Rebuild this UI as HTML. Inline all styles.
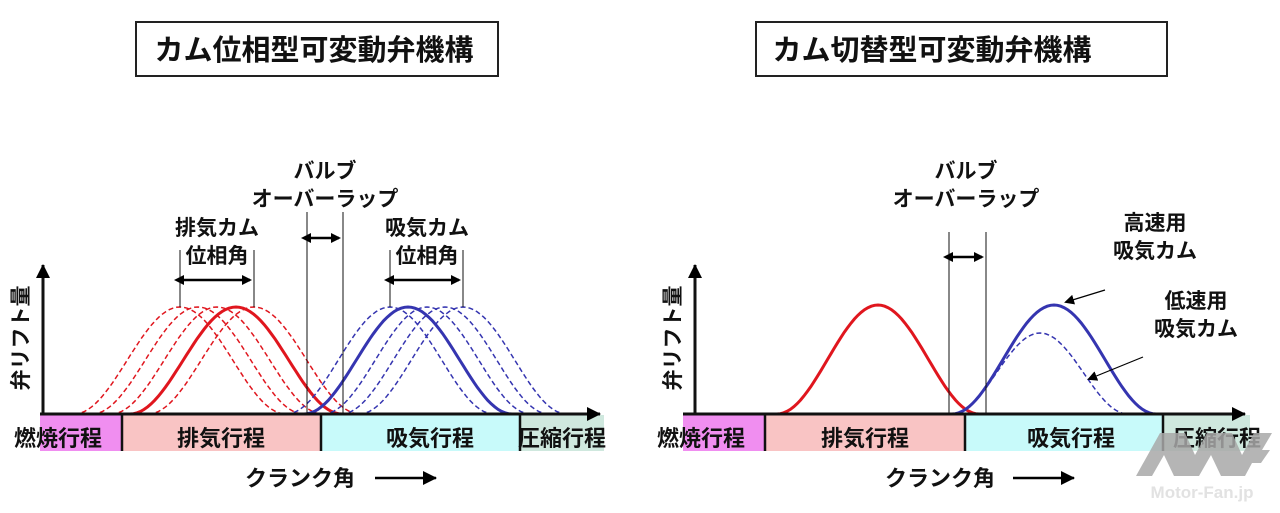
<!DOCTYPE html>
<html><head><meta charset="utf-8"><style>
html,body{margin:0;padding:0;background:#fff;}
svg{display:block;}
text{font-family:"Liberation Sans","Noto Sans CJK JP",sans-serif;fill:#111;}
</style></head><body>
<svg id="s" width="1280" height="513" viewBox="0 0 1280 513" xmlns="http://www.w3.org/2000/svg">
<defs>
<marker id="ah" markerWidth="10" markerHeight="10" refX="8" refY="5" orient="auto" markerUnits="userSpaceOnUse"><path d="M0,0 L10,5 L0,10 z" fill="#000"/></marker>
<marker id="ah2" markerWidth="14" markerHeight="14" refX="13" refY="7" orient="auto" markerUnits="userSpaceOnUse"><path d="M0,0 L14,7 L0,14 z" fill="#000"/></marker>
<marker id="ahs" markerWidth="10" markerHeight="10" refX="0" refY="5" orient="auto-start-reverse" markerUnits="userSpaceOnUse"><path d="M0,0 L10,5 L0,10 z" fill="#000"/></marker>
</defs>
<rect x="136" y="22" width="362" height="54" fill="#fff" stroke="#222" stroke-width="2"/>
<text x="314" y="60" font-size="29" font-weight="bold" text-anchor="middle">カム位相型可変動弁機構</text>
<rect x="756" y="22" width="411" height="54" fill="#fff" stroke="#222" stroke-width="2"/>
<text x="932" y="60" font-size="29" font-weight="bold" text-anchor="middle">カム切替型可変動弁機構</text>

<rect x="40" y="415" width="82" height="36" fill="#f08ef0"/>
<rect x="122" y="415" width="199" height="36" fill="#f9c4c4"/>
<rect x="321" y="415" width="199" height="36" fill="#c8fafa"/>
<rect x="520" y="415" width="84" height="36" fill="#cfe8de"/>
<line x1="122" y1="415" x2="122" y2="451" stroke="#111" stroke-width="2.5"/>
<line x1="321" y1="415" x2="321" y2="451" stroke="#111" stroke-width="2.5"/>
<line x1="520" y1="415" x2="520" y2="451" stroke="#111" stroke-width="2.5"/>
<text x="14" y="446" font-size="22" font-weight="bold">燃焼行程</text>
<text x="221" y="446" font-size="22" font-weight="bold" text-anchor="middle">排気行程</text>
<text x="430" y="446" font-size="22" font-weight="bold" text-anchor="middle">吸気行程</text>
<text x="562" y="446" font-size="22" font-weight="bold" text-anchor="middle">圧縮行程</text>
<g id="L"></g>
<line x1="40" y1="414" x2="600" y2="414" stroke="#111" stroke-width="3" marker-end="url(#ah2)"/>
<line x1="43" y1="414" x2="43" y2="265" stroke="#111" stroke-width="3" marker-end="url(#ah2)"/>
<text transform="translate(28,338) rotate(-90)" font-size="21" font-weight="bold" text-anchor="middle">弁リフト量</text>
<line x1="307" y1="212" x2="307" y2="414" stroke="#111" stroke-width="1"/>
<line x1="343" y1="212" x2="343" y2="414" stroke="#111" stroke-width="1"/>
<line x1="311" y1="238" x2="339" y2="238" stroke="#000" stroke-width="2.5" marker-start="url(#ahs)" marker-end="url(#ah)"/>
<text x="325" y="178" font-size="21" font-weight="bold" text-anchor="middle">バルブ</text>
<text x="325" y="206" font-size="21" font-weight="bold" text-anchor="middle">オーバーラップ</text>
<line x1="180" y1="250" x2="180" y2="307" stroke="#111" stroke-width="1"/>
<line x1="254" y1="250" x2="254" y2="307" stroke="#111" stroke-width="1"/>
<line x1="184" y1="280" x2="250" y2="280" stroke="#000" stroke-width="2.5" marker-start="url(#ahs)" marker-end="url(#ah)"/>
<text x="217" y="235" font-size="21" font-weight="bold" text-anchor="middle">排気カム</text>
<text x="217" y="263" font-size="21" font-weight="bold" text-anchor="middle">位相角</text>
<line x1="390" y1="250" x2="390" y2="307" stroke="#111" stroke-width="1"/>
<line x1="463" y1="250" x2="463" y2="307" stroke="#111" stroke-width="1"/>
<line x1="394" y1="280" x2="459" y2="280" stroke="#000" stroke-width="2.5" marker-start="url(#ahs)" marker-end="url(#ah)"/>
<text x="427" y="235" font-size="21" font-weight="bold" text-anchor="middle">吸気カム</text>
<text x="427" y="263" font-size="21" font-weight="bold" text-anchor="middle">位相角</text>
<text x="300" y="486" font-size="22" font-weight="bold" text-anchor="middle">クランク角</text>
<line x1="375" y1="478" x2="436" y2="478" stroke="#000" stroke-width="2.5" marker-end="url(#ah2)"/>

<rect x="683" y="415" width="82" height="36" fill="#f08ef0"/>
<rect x="765" y="415" width="200" height="36" fill="#f9c4c4"/>
<rect x="965" y="415" width="198" height="36" fill="#c8fafa"/>
<rect x="1163" y="415" width="87" height="36" fill="#cfe8de"/>
<line x1="765" y1="415" x2="765" y2="451" stroke="#111" stroke-width="2.5"/>
<line x1="965" y1="415" x2="965" y2="451" stroke="#111" stroke-width="2.5"/>
<line x1="1163" y1="415" x2="1163" y2="451" stroke="#111" stroke-width="2.5"/>
<text x="657" y="446" font-size="22" font-weight="bold">燃焼行程</text>
<text x="865" y="446" font-size="22" font-weight="bold" text-anchor="middle">排気行程</text>
<text x="1071" y="446" font-size="22" font-weight="bold" text-anchor="middle">吸気行程</text>
<text x="1217" y="446" font-size="22" font-weight="bold" text-anchor="middle">圧縮行程</text>
<g id="R"></g>
<line x1="683" y1="414" x2="1245" y2="414" stroke="#111" stroke-width="3" marker-end="url(#ah2)"/>
<line x1="695" y1="414" x2="695" y2="265" stroke="#111" stroke-width="3" marker-end="url(#ah2)"/>
<text transform="translate(680,338) rotate(-90)" font-size="21" font-weight="bold" text-anchor="middle">弁リフト量</text>
<line x1="949" y1="232" x2="949" y2="414" stroke="#111" stroke-width="1"/>
<line x1="986" y1="232" x2="986" y2="414" stroke="#111" stroke-width="1"/>
<line x1="953" y1="257" x2="982" y2="257" stroke="#000" stroke-width="2.5" marker-start="url(#ahs)" marker-end="url(#ah)"/>
<text x="966" y="178" font-size="21" font-weight="bold" text-anchor="middle">バルブ</text>
<text x="966" y="206" font-size="21" font-weight="bold" text-anchor="middle">オーバーラップ</text>
<text x="1155" y="230" font-size="21" font-weight="bold" text-anchor="middle">高速用</text>
<text x="1155" y="258" font-size="21" font-weight="bold" text-anchor="middle">吸気カム</text>
<text x="1196" y="308" font-size="21" font-weight="bold" text-anchor="middle">低速用</text>
<text x="1196" y="336" font-size="21" font-weight="bold" text-anchor="middle">吸気カム</text>
<line x1="1105" y1="290" x2="1066" y2="302" stroke="#000" stroke-width="1.2" marker-end="url(#ah)"/>
<line x1="1143" y1="357" x2="1089" y2="379" stroke="#000" stroke-width="1.2" marker-end="url(#ah)"/>
<text x="940" y="486" font-size="22" font-weight="bold" text-anchor="middle">クランク角</text>
<line x1="1013" y1="478" x2="1074" y2="478" stroke="#000" stroke-width="2.5" marker-end="url(#ah2)"/>
<polygon points="1136,476 1160,433 1185,433 1195,455 1207,433 1232,433 1242,455 1254,433 1272,433 1262,450 1270,450 1261,463 1252,463 1245,476 1221,476 1211,455 1199,476 1174,476 1164,455 1152,476" fill="#a8a8a8" opacity="0.85"/>
<text x="1202" y="498" font-size="17" text-anchor="middle" style="fill:#e2e2e2" font-weight="bold">Motor-Fan.jp</text>
</svg>
<script>
function bump(c,hw,base,h){let d="";for(let i=0;i<=60;i++){let x=c-hw+2*hw*i/60;let t=(x-c)/hw;let y=base-h*(1+Math.cos(Math.PI*t))/2;d+=(i?"L":"M")+x.toFixed(1)+","+y.toFixed(1);}return d;}
function add(g,d,col,w,dash){const p=document.createElementNS("http://www.w3.org/2000/svg","path");p.setAttribute("d",d);p.setAttribute("fill","none");p.setAttribute("stroke",col);p.setAttribute("stroke-width",w);if(dash)p.setAttribute("stroke-dasharray",dash);document.getElementById(g).appendChild(p);}
const R="#e0161e",B="#3535b0";
[180,198,217,254].forEach(c=>add("L",bump(c,106,414,107),R,1.5,"5,3"));
add("L",bump(236,106,414,107),R,3);
[390,445,463,427].forEach(c=>add("L",bump(c,104,414,107),B,1.5,"5,3"));
add("L",bump(408,104,414,107),B,3);
add("R",bump(878,101,414,109),R,3);
add("R",bump(1054,102,414,109),B,3);
add("R",bump(1040,88,414,81),B,1.5,"5,3");
</script>
</body></html>
